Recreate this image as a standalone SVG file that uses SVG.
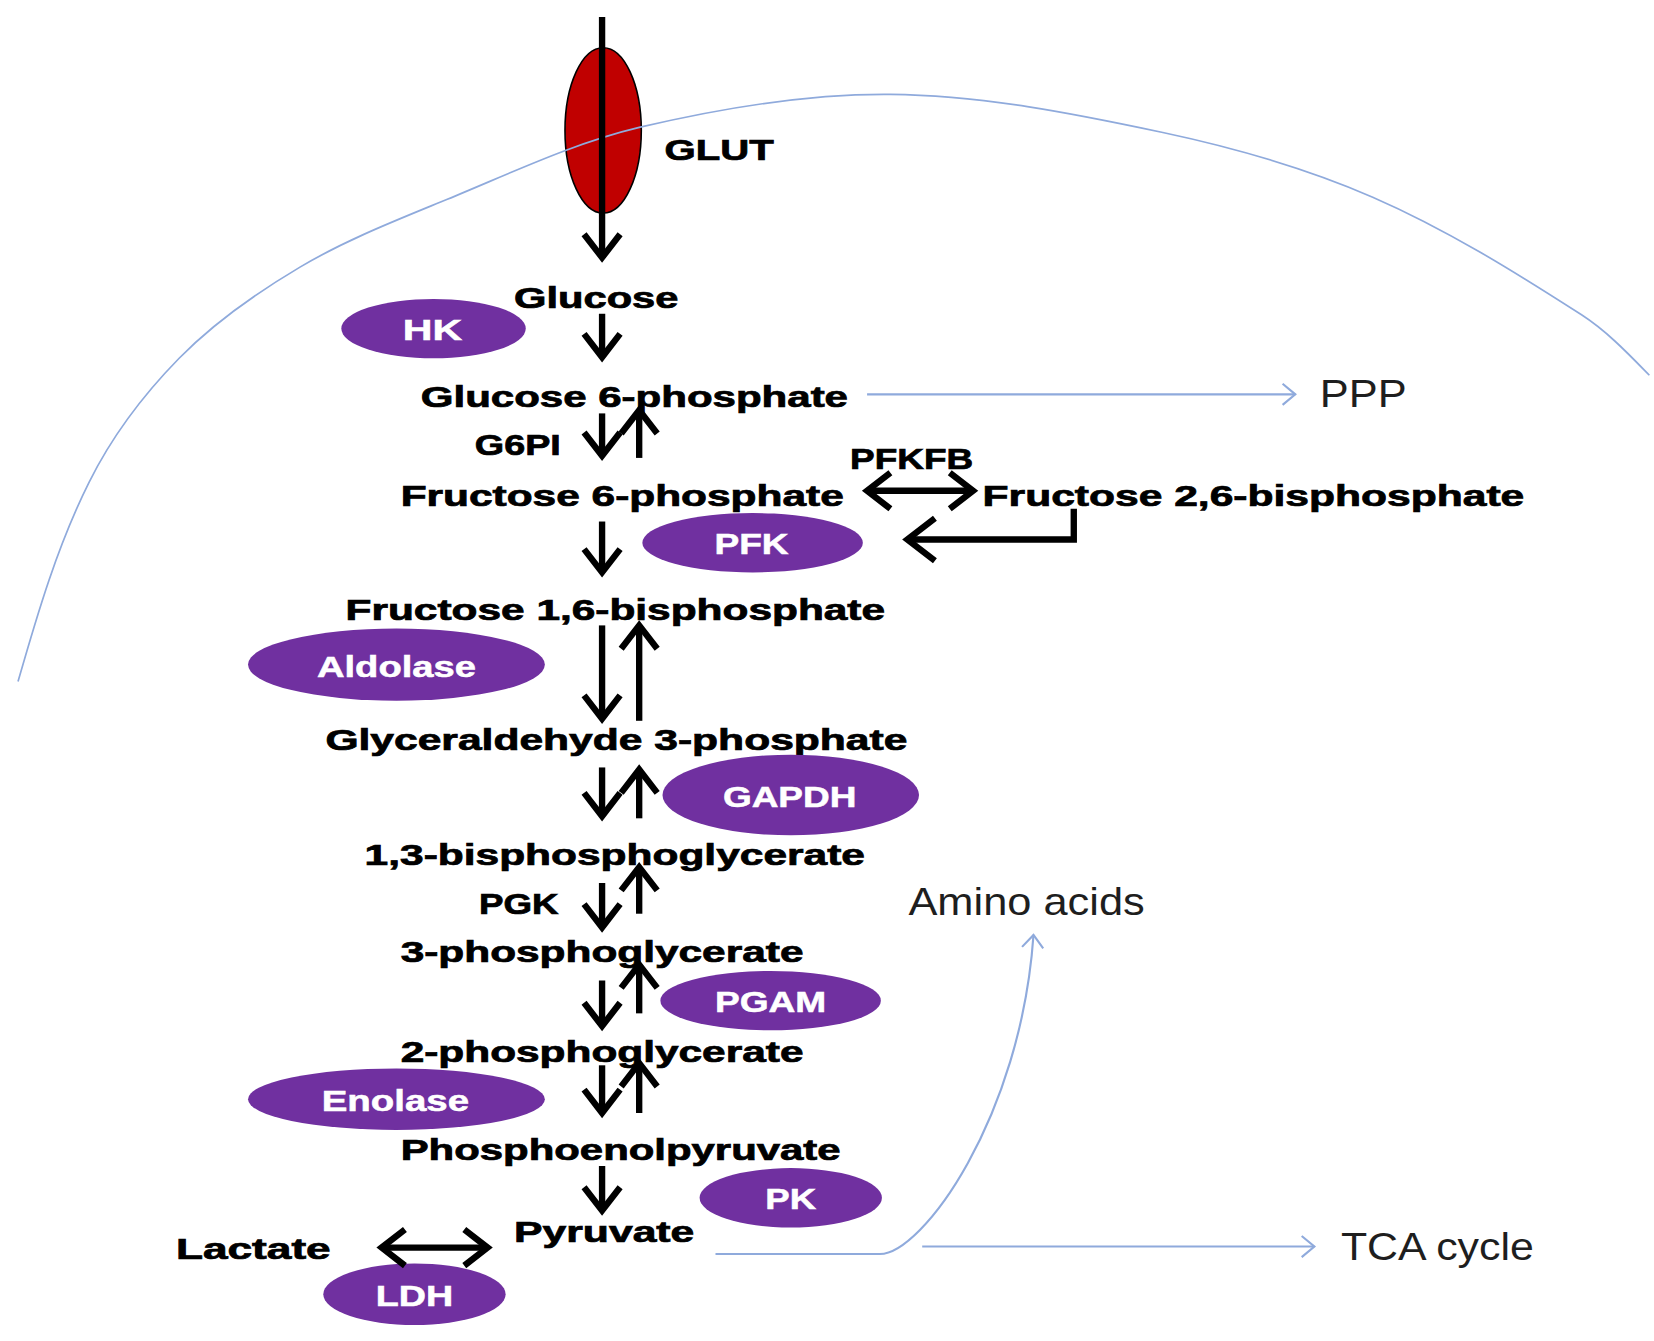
<svg xmlns="http://www.w3.org/2000/svg" width="1654" height="1341" viewBox="0 0 1654 1341">
<style>
.t{font-family:"Liberation Sans",Arial,sans-serif;font-weight:bold;font-size:28px;fill:#000;stroke:#000;stroke-width:0.7}
.e{fill:#7030A0}
.et{font-family:"Liberation Sans",Arial,sans-serif;font-weight:bold;font-size:28px;fill:#fff;stroke:#fff;stroke-width:0.5;text-anchor:middle}
.l{font-family:"Liberation Sans",Arial,sans-serif;font-size:36px;fill:#1e1e1e}
.k{fill:none;stroke:#000;stroke-width:6}
.b{fill:none;stroke:#8FAADC;stroke-width:2}
</style>
<defs>
<marker id="a" markerUnits="userSpaceOnUse" viewBox="-30 -22 40 44" refX="0" refY="0" markerWidth="40" markerHeight="44" orient="auto-start-reverse">
<path d="M-22,-17 L0,0 L-22,17" fill="none" stroke="#000" stroke-width="6"/>
</marker>
<marker id="a2" markerUnits="userSpaceOnUse" viewBox="-34 -26 46 52" refX="0" refY="0" markerWidth="46" markerHeight="52" orient="auto">
<path d="M-26,-20 L0,0 L-26,20" fill="none" stroke="#000" stroke-width="6"/>
</marker>
<marker id="bh" markerUnits="userSpaceOnUse" viewBox="-16 -12 22 24" refX="0" refY="0" markerWidth="22" markerHeight="24" orient="auto">
<path d="M-12,-10 L0,0 L-12,10" fill="none" stroke="#8FAADC" stroke-width="2"/>
</marker>
</defs>
<rect width="1654" height="1341" fill="#fff"/>
<g transform="scale(1.06)">
<g id="glut">
<ellipse cx="569" cy="123" rx="36" ry="78" fill="#C00000" stroke="#000" stroke-width="1.5"/>
<text class="t" x="627" y="151" textLength="103" lengthAdjust="spacingAndGlyphs">GLUT</text>
</g>
<path id="membrane" fill="none" stroke="#8FAADC" stroke-width="1.6" d="M17,643 C35.3,579 54.3,514.5 84,455 C105.5,411.9 135.3,372.4 169,338 C202.3,304 242.1,276.3 283,252 C326.9,226 374.8,207.4 422,188 C481.9,163.4 541,134.9 604,120 C681.2,101.8 760.7,88.2 840,89 C926.5,89.9 1012.4,107 1097,125 C1164.6,139.4 1231.6,158.4 1295,186 C1364.1,216.1 1428.6,256.2 1492,297 C1516,312.5 1536,333.6 1556,354"/>
<g id="glucose"><text class="t" x="485" y="291" textLength="155" lengthAdjust="spacingAndGlyphs">Glucose</text></g>
<g id="g6p"><text class="t" x="397" y="384" textLength="403" lengthAdjust="spacingAndGlyphs">Glucose 6-phosphate</text></g>
<g id="g6pi"><text class="t" x="448" y="429" textLength="81" lengthAdjust="spacingAndGlyphs">G6PI</text></g>
<g id="pfkfb"><text class="t" x="802" y="442" textLength="116" lengthAdjust="spacingAndGlyphs">PFKFB</text></g>
<g id="f6p"><text class="t" x="378" y="477" textLength="418" lengthAdjust="spacingAndGlyphs">Fructose 6-phosphate</text></g>
<g id="f26bp"><text class="t" x="927" y="477" textLength="511" lengthAdjust="spacingAndGlyphs">Fructose 2,6-bisphosphate</text></g>
<g id="f16bp"><text class="t" x="326" y="585" textLength="509" lengthAdjust="spacingAndGlyphs">Fructose 1,6-bisphosphate</text></g>
<g id="ga3p"><text class="t" x="307" y="708" textLength="549" lengthAdjust="spacingAndGlyphs">Glyceraldehyde 3-phosphate</text></g>
<g id="bpg13"><text class="t" x="344" y="816" textLength="472" lengthAdjust="spacingAndGlyphs">1,3-bisphosphoglycerate</text></g>
<g id="pgk"><text class="t" x="452" y="862" textLength="75" lengthAdjust="spacingAndGlyphs">PGK</text></g>
<g id="pg3"><text class="t" x="378" y="908" textLength="380" lengthAdjust="spacingAndGlyphs">3-phosphoglycerate</text></g>
<g id="pg2"><text class="t" x="378" y="1002" textLength="380" lengthAdjust="spacingAndGlyphs">2-phosphoglycerate</text></g>
<g id="pep"><text class="t" x="378" y="1094" textLength="415" lengthAdjust="spacingAndGlyphs">Phosphoenolpyruvate</text></g>
<g id="pyruvate"><text class="t" x="485" y="1172" textLength="170" lengthAdjust="spacingAndGlyphs">Pyruvate</text></g>
<g id="lactate"><text class="t" x="166" y="1188" textLength="146" lengthAdjust="spacingAndGlyphs">Lactate</text></g>
<g id="hk"><ellipse class="e" cx="409" cy="310" rx="87" ry="28"/><text class="et" x="408" y="321" textLength="56" lengthAdjust="spacingAndGlyphs">HK</text></g>
<g id="pfk"><ellipse class="e" cx="710" cy="512" rx="104" ry="28"/><text class="et" x="709" y="523" textLength="70" lengthAdjust="spacingAndGlyphs">PFK</text></g>
<g id="aldolase"><ellipse class="e" cx="374" cy="627" rx="140" ry="34"/><text class="et" x="374" y="639" textLength="150" lengthAdjust="spacingAndGlyphs">Aldolase</text></g>
<g id="gapdh"><ellipse class="e" cx="746" cy="750" rx="121" ry="38"/><text class="et" x="745" y="761" textLength="126" lengthAdjust="spacingAndGlyphs">GAPDH</text></g>
<g id="pgam"><ellipse class="e" cx="727" cy="944" rx="104" ry="28"/><text class="et" x="727" y="955" textLength="105" lengthAdjust="spacingAndGlyphs">PGAM</text></g>
<g id="enolase"><ellipse class="e" cx="374" cy="1037" rx="140" ry="29"/><text class="et" x="373" y="1048" textLength="139" lengthAdjust="spacingAndGlyphs">Enolase</text></g>
<g id="pk"><ellipse class="e" cx="746" cy="1130" rx="86" ry="28"/><text class="et" x="746" y="1141" textLength="48" lengthAdjust="spacingAndGlyphs">PK</text></g>
<g id="ldh"><ellipse class="e" cx="391" cy="1221" rx="86" ry="29"/><text class="et" x="391" y="1232" textLength="73" lengthAdjust="spacingAndGlyphs">LDH</text></g>
<g id="ppp"><text class="l" x="1245" y="384" textLength="82" lengthAdjust="spacingAndGlyphs">PPP</text></g>
<g id="amino"><text class="l" x="857" y="863" textLength="223" lengthAdjust="spacingAndGlyphs">Amino acids</text></g>
<g id="tca"><text class="l" x="1265" y="1189" textLength="182" lengthAdjust="spacingAndGlyphs">TCA cycle</text></g>
<g id="connectors">
<path class="k" d="M568,16 V243" marker-end="url(#a)"/>
<path class="k" d="M568,296 V337" marker-end="url(#a)"/>
<path class="k" d="M568,390 V430" marker-end="url(#a)"/>
<path class="k" d="M603,432 V387" marker-end="url(#a)"/>
<path class="k" d="M568,492 V540" marker-end="url(#a)"/>
<path class="k" d="M568,590 V678" marker-end="url(#a)"/>
<path class="k" d="M603,680 V590" marker-end="url(#a)"/>
<path class="k" d="M568,724 V770" marker-end="url(#a)"/>
<path class="k" d="M603,772 V726" marker-end="url(#a)"/>
<path class="k" d="M568,833 V875" marker-end="url(#a)"/>
<path class="k" d="M603,862 V818" marker-end="url(#a)"/>
<path class="k" d="M568,925 V968" marker-end="url(#a)"/>
<path class="k" d="M603,956 V910" marker-end="url(#a)"/>
<path class="k" d="M568,1005 V1050" marker-end="url(#a)"/>
<path class="k" d="M603,1050 V1003" marker-end="url(#a)"/>
<path class="k" d="M568,1100 V1142" marker-end="url(#a)"/>
<path class="k" d="M360,1177 H460" marker-start="url(#a)" marker-end="url(#a)"/>
<path class="k" d="M818,463 H918" marker-start="url(#a)" marker-end="url(#a)"/>
<path class="k" d="M1013,480 V509 H856" marker-end="url(#a2)"/>
<path class="b" d="M818,372 H1222" marker-end="url(#bh)"/>
<path class="b" d="M675,1183 H830 C870,1183 963,1055 975,882" marker-end="url(#bh)"/>
<path class="b" d="M870,1176 H1240" marker-end="url(#bh)"/>
</g>
</g>
</svg>
